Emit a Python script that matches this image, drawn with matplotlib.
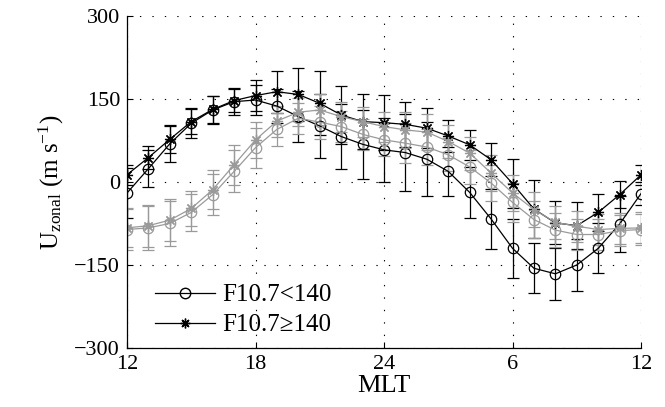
import matplotlib
matplotlib.use("Agg")
import matplotlib.pyplot as plt
import numpy as np

# MLT hours, 12 -> 36 (i.e. noon to next noon)
mlt = np.arange(12, 37)

# black: observations, gray: second data set
blk_lo = [-20, 24, 69, 106, 130, 145, 148, 137, 118, 101, 82, 68, 58,
          53, 41, 19, -19, -67, -120, -156, -166, -150, -120, -76, -21]
blk_lo_err = [45, 33, 33, 27, 25, 24, 27, 30, 46, 58, 58, 62, 58,
              70, 67, 44, 46, 55, 53, 45, 47, 47, 45, 50, 20]
blk_hi = [13, 44, 77, 109, 131, 147, 156, 163, 158, 142, 121, 109, 107,
          104, 97, 83, 67, 40, -3, -49, -74, -79, -55, -23, 13]
blk_hi_err = [18, 21, 24, 22, 24, 20, 28, 38, 48, 58, 52, 50, 50,
              40, 36, 29, 27, 30, 45, 52, 39, 43, 34, 25, 18]
gry_lo = [-86, -83, -75, -55, -23, 19, 62, 95, 115, 108, 100, 86, 76,
          70, 63, 49, 27, -2, -37, -68, -87, -95, -95, -88, -86]
gry_lo_err = [37, 40, 40, 34, 37, 38, 36, 30, 28, 30, 28, 28, 30,
              36, 33, 30, 30, 33, 35, 33, 30, 28, 28, 28, 28]
gry_hi = [-83, -79, -69, -48, -14, 31, 76, 110, 126, 130, 118, 109, 100,
          94, 90, 73, 52, 16, -20, -50, -73, -80, -86, -84, -83]
gry_hi_err = [35, 38, 38, 32, 35, 36, 32, 28, 25, 28, 27, 27, 27,
              33, 33, 30, 30, 32, 33, 32, 30, 28, 28, 28, 28]

xticks = [12, 18, 24, 30, 36]
xticklabels = ["12", "18", "24", "6", "12"]
yticks = [-300, -150, 0, 150, 300]

plt.rcParams["font.family"] = ["Liberation Serif", "DejaVu Serif"]
plt.rcParams["mathtext.fontset"] = "custom"
plt.rcParams["mathtext.rm"] = "Liberation Serif"
plt.rcParams["mathtext.it"] = "Liberation Serif"

fig = plt.figure(figsize=(6.65, 4.07), dpi=100)
ax = fig.add_axes([0.191, 0.145, 0.773, 0.816])

gray = "#9a9a9a"
star = (8, 2, 0)  # matlab-like asterisk
style = dict(lw=0.9, elinewidth=0.9, capsize=4, capthick=0.9, mew=0.9)

# circles = F10.7 < 140, stars = F10.7 >= 140
ax.errorbar(mlt, blk_lo, yerr=blk_lo_err, color="k", marker="o", ms=7.5, mfc="none", **style)
ax.errorbar(mlt, blk_hi, yerr=blk_hi_err, color="k", marker=star, ms=8, mfc="none", **style)
ax.errorbar(mlt, gry_lo, yerr=gry_lo_err, color=gray, marker="o", ms=7.5, mfc="none", **style)
ax.errorbar(mlt, gry_hi, yerr=gry_hi_err, color=gray, marker=star, ms=8, mfc="none", **style)

ax.set_xlim(12, 36)
ax.set_ylim(-300, 300)
ax.set_xticks(xticks)
ax.set_xticklabels(xticklabels)
ax.set_yticks(yticks)
ax.tick_params(direction="in", labelsize=16, length=4, width=0.8, pad=5)
ax.grid(True, color="k", linestyle=(0, (1.2, 10)), linewidth=0.8)
ax.spines["top"].set_visible(False)
ax.spines["right"].set_visible(False)
ax.spines["left"].set_linewidth(0.9)
ax.spines["bottom"].set_linewidth(0.9)

ax.set_xlabel("MLT", fontsize=19, labelpad=1)
ax.set_ylabel(r"U$_{\rm zonal}$ (m s$^{-1}$)", fontsize=18, labelpad=6)

# legend with black proxies only
h1, = ax.plot([], [], color="k", marker="o", mfc="none", lw=0.9, ms=7.5)
h2, = ax.plot([], [], color="k", marker=star, mfc="none", lw=0.9, ms=7)
ax.legend([h1, h2], ["F10.7<140", "F10.7\u2265140"], loc="lower left",
          bbox_to_anchor=(0.015, -0.025), frameon=False, fontsize=18,
          handlelength=2.4, handletextpad=0.3, labelspacing=0.3, borderpad=0.3)

fig.savefig("out.png", dpi=100)
